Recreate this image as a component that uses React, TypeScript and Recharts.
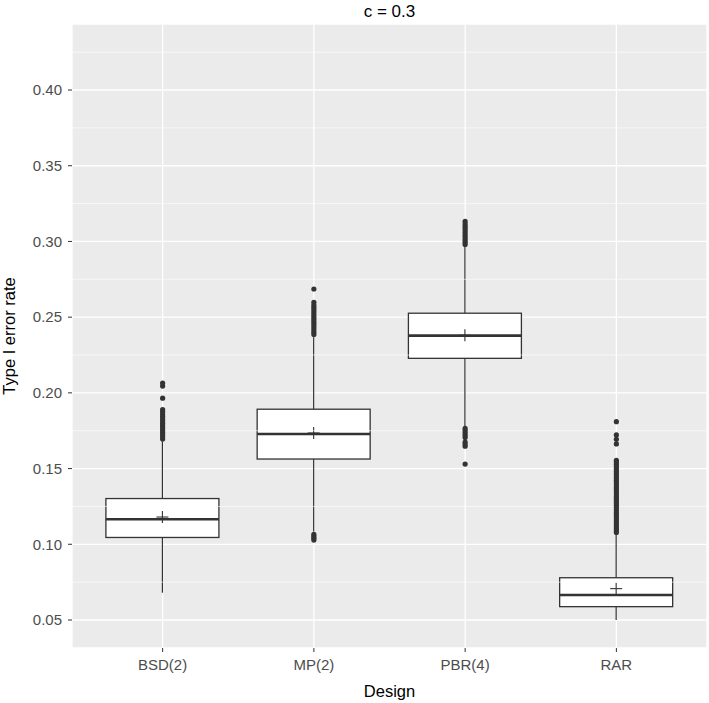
import React from "react";
import { Bar, CartesianGrid, ComposedChart, ReferenceLine, Scatter, XAxis, YAxis } from "recharts";

const designs = ["BSD(2)", "MP(2)", "PBR(4)", "RAR"];
const q1 = [0.1045, 0.1563, 0.2228, 0.0588];
const medians = [0.1165, 0.1728, 0.2378, 0.0665];
const q3 = [0.1302, 0.1892, 0.2526, 0.0779];
const means = [0.118, 0.1735, 0.238, 0.0707];
const whiskerLow = [0.068, 0.1085, 0.178, 0.05];
const whiskerHigh = [0.168, 0.2367, 0.2966, 0.1061];

const outliersBSD = [0.1695, 0.171, 0.1725, 0.174, 0.1755, 0.177, 0.1785, 0.18, 0.1815, 0.183, 0.1845, 0.186, 0.1875, 0.189, 0.1965, 0.2045, 0.2065];
const outliersMP = [0.1028, 0.104, 0.1052, 0.1065, 0.2385, 0.24, 0.2415, 0.243, 0.2445, 0.246, 0.2475, 0.249, 0.2505, 0.252, 0.2535, 0.255, 0.2565, 0.258, 0.2598, 0.2686];
const outliersPBR = [0.153, 0.1648, 0.1662, 0.1675, 0.1705, 0.172, 0.1735, 0.175, 0.1765, 0.298, 0.2995, 0.301, 0.3025, 0.304, 0.3055, 0.307, 0.3085, 0.31, 0.3115, 0.3132];
const outliersRAR = [0.1078, 0.1093, 0.1108, 0.1123, 0.1138, 0.1153, 0.1168, 0.1183, 0.1198, 0.1213, 0.1228, 0.1243, 0.1258, 0.1273, 0.1288, 0.1303, 0.1318, 0.1333, 0.1348, 0.1363, 0.1378, 0.1393, 0.1408, 0.1423, 0.1438, 0.1453, 0.1468, 0.1483, 0.1498, 0.1513, 0.1528, 0.1543, 0.1555, 0.1663, 0.1693, 0.1722, 0.181];

const yTicks = [0.05, 0.1, 0.15, 0.2, 0.25, 0.3, 0.35, 0.4];
const yMinor = [0.075, 0.125, 0.175, 0.225, 0.275, 0.325, 0.375, 0.425];

const rows = designs.map((name, i) => ({
  name,
  q1: q1[i],
  med: medians[i],
  q3: q3[i],
  mean: means[i],
  lo: whiskerLow[i],
  hi: whiskerHigh[i],
}));

const outlierPoints = [outliersBSD, outliersMP, outliersPBR, outliersRAR].flatMap((vals, i) =>
  vals.map((v) => ({ name: designs[i], v }))
);

const ink = "#333333";
const font = "'Liberation Sans', Arial, sans-serif";

function BoxShape(props: any) {
  const { x, y, width, height, payload } = props;
  const k = height / (payload.hi - payload.lo);
  const py = (v: number) => y + (payload.hi - v) * k;
  const cx = x + width / 2;
  return (
    <g>
      <line x1={cx} x2={cx} y1={py(payload.hi)} y2={py(payload.lo)} stroke={ink} strokeWidth={1.2} />
      <rect x={x} y={py(payload.q3)} width={width} height={py(payload.q1) - py(payload.q3)} fill="#fff" stroke={ink} strokeWidth={1.3} />
      <line x1={x} x2={x + width} y1={py(payload.med)} y2={py(payload.med)} stroke={ink} strokeWidth={2.6} />
      <line x1={cx - 6} x2={cx + 6} y1={py(payload.mean)} y2={py(payload.mean)} stroke={ink} strokeWidth={1.1} />
      <line x1={cx} x2={cx} y1={py(payload.mean) - 6} y2={py(payload.mean) + 6} stroke={ink} strokeWidth={1.1} />
    </g>
  );
}

const Dot = (props: any) => <circle cx={props.cx} cy={props.cy} r={2.6} fill={ink} />;

export default function App() {
  return (
    <div style={{ position: "absolute", left: 0, top: 0, width: 709, height: 703, background: "#fff", fontFamily: font }}>
      <div style={{ position: "absolute", left: 72, width: 635, top: 2, textAlign: "center", fontSize: 17, color: "#000" }}>c = 0.3</div>
      <ComposedChart
        width={709}
        height={703}
        data={rows}
        margin={{ top: 24, right: 2, left: 0, bottom: 0 }}
        barCategoryGap="12.5%"
      >
        <CartesianGrid fill="#ebebeb" stroke="#ffffff" strokeWidth={1.3} />
        {yMinor.map((v) => (
          <ReferenceLine key={v} y={v} stroke="#ffffff" strokeWidth={0.6} ifOverflow="hidden" />
        ))}
        <XAxis
          dataKey="name"
          type="category"
          allowDuplicatedCategory={false}
          padding={{ left: 15, right: 15 }}
          height={55}
          axisLine={false}
          tickSize={4}
          tickMargin={7}
          tickLine={{ stroke: ink }}
          tick={{ fill: "#4d4d4d", fontSize: 15, fontFamily: font }}
          label={{ value: "Design", position: "insideBottom", offset: 6, fill: "#000", fontSize: 16.5, fontFamily: font }}
        />
        <YAxis
          type="number"
          domain={[0.0315, 0.4436]}
          ticks={yTicks}
          allowDataOverflow
          width={72}
          axisLine={false}
          tickSize={4}
          tickMargin={6}
          tickLine={{ stroke: ink }}
          tickFormatter={(v: number) => v.toFixed(2)}
          tick={{ fill: "#4d4d4d", fontSize: 15, fontFamily: font }}
          label={{ value: "Type I error rate", angle: -90, position: "insideLeft", offset: 9, fill: "#000", fontSize: 16.5, fontFamily: font, style: { textAnchor: "middle" } }}
        />
        <Bar dataKey={(d: any) => [d.lo, d.hi]} shape={BoxShape} isAnimationActive={false} />
        <Scatter data={outlierPoints} dataKey="v" shape={Dot} isAnimationActive={false} />
      </ComposedChart>
    </div>
  );
}
